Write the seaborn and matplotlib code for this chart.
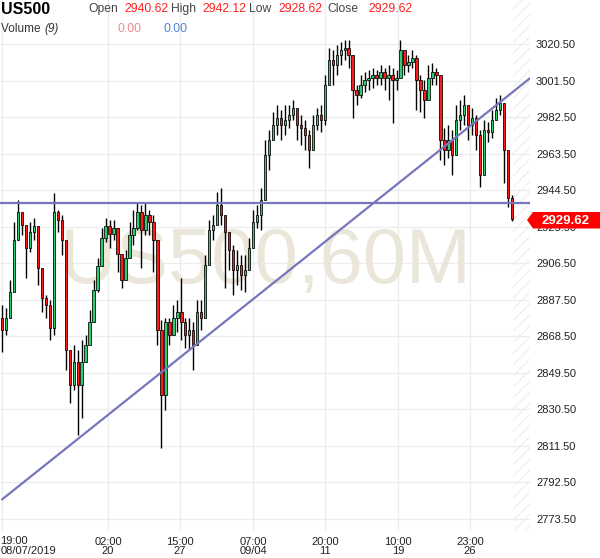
import numpy as np
import pandas as pd
import matplotlib
matplotlib.use("Agg")
import matplotlib.pyplot as plt
import seaborn as sns
from matplotlib.patches import Polygon
from matplotlib import font_manager

# ---------------- data ----------------
first_open = 2878.0
closes = [2871.7, 2877.9, 2891.4, 2918.5, 2933.1, 2926.3, 2914.3, 2922.7, 2925.8, 2903.9,
          2888.3, 2884.7, 2872.7, 2933.1, 2928.9, 2918.5, 2861.3, 2843.0, 2855.0, 2843.0,
          2855.0, 2863.9, 2875.8, 2892.5, 2905.0, 2919.5, 2925.8, 2921.6, 2924.7, 2911.2,
          2897.7, 2909.1, 2921.1, 2924.7, 2933.1, 2923.7, 2931.5, 2927.9, 2918.5, 2871.7,
          2837.8, 2875.8, 2869.1, 2877.9, 2881.0, 2875.8, 2869.1, 2871.7, 2863.9, 2881.0,
          2877.9, 2905.5, 2923.7, 2926.3, 2936.7, 2931.5, 2922.7, 2913.3, 2902.9, 2905.5,
          2900.3, 2902.9, 2914.3, 2927.9, 2931.5, 2939.3, 2962.7, 2970.5, 2978.4, 2982.0,
          2978.4, 2980.9, 2983.6, 2987.2, 2978.4, 2976.8, 2973.1, 2965.3, 2978.4, 2983.6,
          2980.9, 2999.2, 3012.2, 3009.6, 3014.8, 3017.4, 3018.4, 3014.8, 2996.6, 2994.0,
          2999.2, 3001.8, 3002.8, 3004.4, 3002.8, 3005.9, 3002.8, 3004.4, 3001.8, 3002.8,
          3017.4, 3009.6, 3011.1, 3013.2, 3001.8, 2996.6, 2991.4, 3002.8, 3005.9, 3004.4,
          2970.5, 2965.3, 2970.5, 2962.7, 2980.9, 2983.6, 2988.8, 2978.4, 2982.0, 2973.1,
          2952.3, 2975.7, 2974.7, 2980.9, 2986.2, 2989.8, 2965.3, 2940.62, 2929.62]
highs = [2884.7, 2883.1, 2897.7, 2927.9, 2939.3, 2933.1, 2926.3, 2927.9, 2929.9, 2913.3,
         2897.7, 2889.9, 2887.3, 2943.0, 2934.1, 2931.5, 2918.5, 2861.3, 2863.9, 2861.3,
         2866.5, 2869.1, 2882.1, 2897.7, 2909.1, 2924.7, 2929.9, 2928.9, 2928.9, 2924.7,
         2910.7, 2913.3, 2927.9, 2934.1, 2938.3, 2936.7, 2937.8, 2934.1, 2931.5, 2915.9,
         2876.9, 2877.9, 2877.9, 2884.7, 2887.3, 2898.7, 2877.9, 2877.9, 2875.8, 2887.3,
         2887.3, 2910.7, 2928.9, 2931.5, 2943.5, 2945.6, 2931.5, 2921.1, 2915.9, 2913.3,
         2910.7, 2910.7, 2919.5, 2934.1, 2936.7, 2945.6, 2970.5, 2975.7, 2985.1, 2988.8,
         2986.2, 2988.8, 2988.8, 2991.4, 2986.2, 2983.6, 2980.9, 2975.7, 2983.6, 2987.2,
         2988.8, 3004.4, 3018.4, 3017.4, 3020.0, 3021.5, 3022.6, 3022.6, 3012.2, 2999.2,
         3004.4, 3005.9, 3007.0, 3008.0, 3007.0, 3009.6, 3008.0, 3009.6, 3008.0, 3007.0,
         3022.6, 3014.8, 3014.8, 3017.4, 3014.8, 3004.4, 3001.8, 3009.6, 3010.6, 3008.0,
         3004.4, 2976.8, 2978.4, 2975.7, 2988.8, 2991.4, 2994.0, 2986.2, 2987.2, 2983.6,
         2975.7, 2980.9, 2979.9, 2986.2, 2992.4, 2994.0, 2988.8, 2949.7, 2942.12]
lows = [2860.3, 2869.1, 2882.1, 2900.3, 2926.3, 2921.1, 2898.7, 2912.3, 2918.5, 2895.1,
        2881.0, 2877.9, 2866.5, 2869.1, 2922.7, 2910.7, 2850.9, 2833.7, 2840.4, 2817.0,
        2825.9, 2855.0, 2863.9, 2884.7, 2891.4, 2907.1, 2917.5, 2914.3, 2918.5, 2901.9,
        2893.5, 2900.3, 2909.1, 2915.9, 2923.7, 2903.9, 2921.1, 2921.1, 2901.9, 2863.9,
        2810.3, 2830.0, 2863.9, 2869.1, 2870.6, 2866.5, 2862.3, 2861.3, 2850.9, 2874.3,
        2871.7, 2877.9, 2907.1, 2918.5, 2926.3, 2926.3, 2893.5, 2902.9, 2889.9, 2895.1,
        2892.5, 2891.4, 2903.9, 2918.5, 2924.7, 2923.7, 2941.9, 2954.9, 2970.5, 2973.1,
        2970.5, 2973.1, 2976.8, 2980.9, 2970.5, 2967.9, 2965.3, 2956.0, 2967.9, 2975.7,
        2974.7, 2978.4, 3001.8, 2999.2, 3004.4, 3009.6, 3012.2, 3008.0, 2982.0, 2988.8,
        2992.4, 2995.5, 2996.6, 2997.6, 2999.2, 2999.2, 2996.6, 2991.4, 2979.4, 2996.6,
        3007.0, 3004.4, 3005.9, 3008.0, 2986.2, 2985.1, 2982.0, 2994.0, 2999.2, 2999.2,
        2960.1, 2957.5, 2961.2, 2952.3, 2970.5, 2975.7, 2978.4, 2970.5, 2973.1, 2965.3,
        2946.1, 2967.9, 2969.5, 2971.6, 2980.9, 2983.6, 2948.2, 2935.7, 2928.62]

price_ticks = [2773.5, 2792.5, 2811.5, 2830.5, 2849.5, 2868.5, 2887.5, 2906.5,
               2925.5, 2944.5, 2963.5, 2982.5, 3001.5, 3020.5]
time_tick_pos = [0, 26.6, 44.7, 63.0, 81.1, 99.4, 117.4]
time_tick_labels = ["19:00\n08/07/2019", "02:00\n20", "15:00\n27", "07:00\n09/04",
                    "20:00\n11", "10:00\n19", "23:00\n26"]

support_level = 2937.6
trend_x = [0, 132.5]
trend_y = [2783.5, 3002.7]
last_price = 2929.62

# ---------------- styling ----------------
sns.set_theme(style="white")
plt.rcParams["font.family"] = ["Liberation Sans", "DejaVu Sans"]
plt.rcParams["hatch.linewidth"] = 0.7

opens = [first_open] + closes[:-1]
df = pd.DataFrame({"bar": np.arange(len(closes)), "open": opens, "high": highs,
                   "low": lows, "close": closes})
df["high"] = df[["high", "open", "close"]].max(axis=1)
df["low"] = df[["low", "open", "close"]].min(axis=1)

W, H = 600, 558
fig = plt.figure(figsize=(W / 100, H / 100), dpi=100)
fig.patch.set_facecolor("white")
ax = fig.add_axes([0, 27 / H, 530 / W, 531 / H])
ax.set_facecolor("white")

ax.set_xlim(-0.5, 132.5)
ax.set_ylim(2767.1, 3043.4)

# grid and ticks
ax.set_yticks(price_ticks)
ax.set_yticklabels([f"{p:.2f}" for p in price_ticks])
ax.set_xticks(time_tick_pos)
ax.set_xticklabels([""] + time_tick_labels[1:])
ax.grid(True, color="#ececec", lw=0.9, zorder=0)
ax.set_axisbelow(True)
for s in ax.spines.values():
    s.set_visible(False)
ax.yaxis.tick_right()
ax.tick_params(axis="y", length=0, pad=4.3, labelsize=8, labelcolor="#222222")
ax.tick_params(axis="x", length=0, pad=4, labelsize=8, labelcolor="#222222")
for lbl in ax.get_xticklabels():
    lbl.set_linespacing(0.95)


def fx(px):
    return px / W


def fy(py):
    return 1 - py / H


# first time label, left-aligned at the left edge
fig.text(fx(0.5), fy(536.5), time_tick_labels[0], fontsize=8, color="#222222",
         ha="left", va="top", multialignment="left", linespacing=0.95)

# hatched future area
ax.axvspan(128.2, 132.5, facecolor="none", edgecolor="#ececec", hatch="///", lw=0, zorder=0.5)

# watermark
names = {f.name for f in font_manager.fontManager.ttflist}
if "Liberation Sans Narrow" in names:
    ax.text(0.5, 0.505, "US500,60M", transform=ax.transAxes, ha="center", va="center",
            fontsize=68, color="#ebe6da", family="Liberation Sans Narrow", zorder=1)
else:
    ax.text(0.5, 0.505, "US500,60M", transform=ax.transAxes, ha="center", va="center",
            fontsize=56, color="#ebe6da", zorder=1)

# candles
up = df["close"] >= df["open"]
colors = np.where(up, "#2ecc71", "#ff1a1a")
ax.vlines(df["bar"], df["low"], df["high"], color="black", lw=1.0, zorder=2)
ax.bar(df["bar"], df["close"] - df["open"], bottom=df["open"], width=0.6,
       color=colors, edgecolor="black", linewidth=0.55, zorder=3)

# trend lines
line_col = "#7676bd"
sns.lineplot(x=trend_x, y=trend_y, ax=ax, color=line_col, lw=1.6, zorder=4)
ax.axhline(support_level, color=line_col, lw=1.6, zorder=4)

# last price marker
box = Polygon([(fx(527), fy(220)), (fx(533), fy(212)), (fx(600), fy(212)),
               (fx(600), fy(228.5)), (fx(533), fy(228.5))], closed=True,
              transform=fig.transFigure, facecolor="#ff0000", edgecolor="none", zorder=10)
fig.add_artist(box)
fig.text(fx(566), fy(220.5), f"{last_price:.2f}", color="white", fontsize=9.5,
         fontweight="bold", ha="center", va="center", zorder=11)

# header
fig.text(fx(1), fy(9), "US500", fontsize=11.5, fontweight="bold", color="black",
         ha="left", va="center")
hdr = [(88, "Open", "#444444"), (124, "2940.62", "#ff2020"), (171, "High", "#444444"),
       (202, "2942.12", "#ff2020"), (249, "Low", "#444444"), (278, "2928.62", "#ff2020"),
       (327, "Close", "#444444"), (368, "2929.62", "#ff2020")]
for x, t, c in hdr:
    fig.text(fx(x), fy(9), t, fontsize=8.7, color=c, ha="left", va="center")
fig.text(fx(1), fy(29), "Volume ", fontsize=8.5, color="#333333", ha="left", va="center")
fig.text(fx(44), fy(29), "(9)", fontsize=8.5, color="#333333", style="italic",
         ha="left", va="center")
fig.text(fx(117), fy(29), "0.00", fontsize=8.7, color="#f08a8a", ha="left", va="center")
fig.text(fx(163), fy(29), "0.00", fontsize=8.7, color="#4d84e0", ha="left", va="center")

fig.savefig("out.png", dpi=100, facecolor="white")
